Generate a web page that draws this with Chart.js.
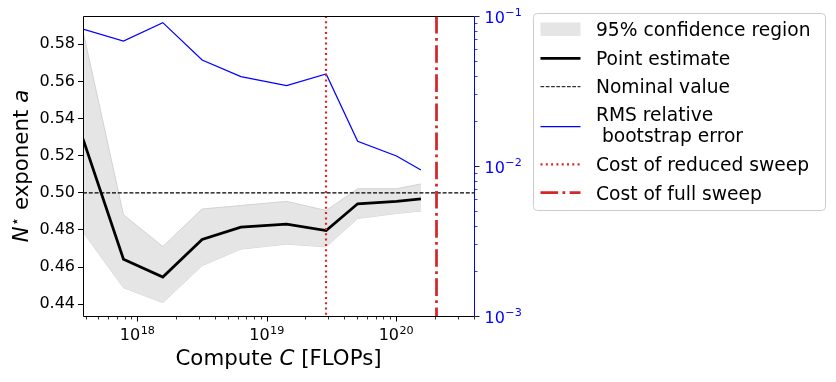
<!DOCTYPE html>
<html>
<head>
<meta charset="utf-8">
<script src="https://cdn.jsdelivr.net/npm/chart.js@4.4.0/dist/chart.umd.min.js"></script>
<style>
  body { margin: 0; background: #fff; }
  #wrap { position: relative; width: 836px; height: 382px; }
</style>
</head>
<body>
<div id="wrap"><canvas id="chart"></canvas></div>
<script>
// values
const computeFlops = [3.82e17, 7.85e17, 1.58e18, 3.18e18, 6.34e18, 1.43e19, 2.89e19, 5.06e19, 1.01e20, 1.56e20];
const pointEstimate = [0.529, 0.4643, 0.4547, 0.4749, 0.4815, 0.4832, 0.4797, 0.4941, 0.4954, 0.4968];
const ciUpper = [0.587, 0.4882, 0.4711, 0.4913, 0.4932, 0.4954, 0.4905, 0.5022, 0.5022, 0.5048];
const ciLower = [0.4789, 0.4489, 0.4409, 0.4608, 0.4697, 0.4724, 0.4709, 0.4862, 0.4889, 0.4902];
const rmsError = [0.0819, 0.0681, 0.0903, 0.0509, 0.0394, 0.0343, 0.0411, 0.0146, 0.01166, 0.0094];
const nominalValue = 0.5;
const reducedSweepCost = 2.86e19;
const fullSweepCost = 2.03e20;

const xLimits = [3.82e17, 4.01e20];
const yLimits = [0.4337, 0.5952];
const errLimits = [1e-3, 1e-1];
const yTicks = [0.44, 0.46, 0.48, 0.50, 0.52, 0.54, 0.56, 0.58];
const xMajorExps = [18, 19, 20];
const errMajorExps = [-3, -2, -1];

const FONT = '"DejaVu Sans", sans-serif';
const RED = '#d62728';
const BAND = '#e5e5e5';
const BAND_EDGE = '#d2d2d2';

function xy(ys) {
    return computeFlops.map((c, i) => ({ x: c, y: ys[i] }));
}

// draws "10" with a raised exponent, like matplotlib mathtext
function powLabel(ctx, exp, x, y, align, color) {
    const expText = exp < 0 ? '\u2212' + (-exp) : String(exp);
    ctx.font = `16px ${FONT}`;
    const wb = ctx.measureText('10').width;
    ctx.font = `11.2px ${FONT}`;
    const we = ctx.measureText(expText).width;
    const left = align === 'center' ? x - (wb + we) / 2 : x;
    ctx.fillStyle = color;
    ctx.textAlign = 'left';
    ctx.textBaseline = 'alphabetic';
    ctx.font = `16px ${FONT}`;
    ctx.fillText('10', left, y);
    ctx.font = `11.2px ${FONT}`;
    ctx.fillText(expText, left + wb + 0.5, y - 6.5);
}

function line(ctx, x1, y1, x2, y2, color, width, dash) {
    ctx.save();
    ctx.strokeStyle = color;
    ctx.lineWidth = width;
    ctx.setLineDash(dash || []);
    ctx.beginPath();
    ctx.moveTo(x1, y1);
    ctx.lineTo(x2, y2);
    ctx.stroke();
    ctx.restore();
}

const dotted = [2, 3.3];
const dashDot = [17.6, 4.4, 2.75, 4.4];

const extras = {
    id: 'extras',
    afterDatasetsDraw(chart) {
        const ctx = chart.ctx;
        const a = chart.chartArea;
        const xs = chart.scales.x;
        const xr = Math.round(xs.getPixelForValue(reducedSweepCost));
        const xf = Math.round(xs.getPixelForValue(fullSweepCost)) + 0.5;
        ctx.save();
        ctx.beginPath();
        ctx.rect(a.left, a.top, a.right - a.left, a.bottom - a.top);
        ctx.clip();
        line(ctx, xr, a.top, xr, a.bottom, RED, 2.2, dotted);
        line(ctx, xf, a.top, xf, a.bottom, RED, 2.75, dashDot);
        ctx.restore();
    },
    afterDraw(chart) {
        const ctx = chart.ctx;
        const a = chart.chartArea;
        const xs = chart.scales.x;
        const es = chart.scales.err;
        const L = a.left + 0.5, R = a.right + 0.5, T = a.top + 0.5, B = a.bottom + 0.5;

        // spines
        line(ctx, L, T, R, T, '#000', 1);
        line(ctx, L, T, L, B, '#000', 1);
        line(ctx, L, B, R, B, '#000', 1);
        line(ctx, R, T, R, B, '#0000ff', 1);

        // x ticks (log)
        for (let n = 17; n <= 20; n++) {
            for (let k = 1; k <= 9; k++) {
                const v = k * Math.pow(10, n);
                if (v < xLimits[0] || v > xLimits[1]) continue;
                const px = Math.round(xs.getPixelForValue(v)) + 0.5;
                line(ctx, px, B, px, B + (k === 1 ? 5 : 3), '#000', k === 1 ? 1 : 0.8);
            }
        }
        xMajorExps.forEach(e => {
            powLabel(ctx, e, xs.getPixelForValue(Math.pow(10, e)), 340, 'center', '#000');
        });

        // right log axis ticks
        for (let n = -3; n <= -1; n++) {
            for (let k = 1; k <= 9; k++) {
                const v = k * Math.pow(10, n);
                if (v < errLimits[0] || v > errLimits[1]) continue;
                const py = Math.round(es.getPixelForValue(v)) + 0.5;
                line(ctx, R, py, R + (k === 1 ? 5 : 3), py, '#222', k === 1 ? 1 : 0.8);
            }
        }
        errMajorExps.forEach(e => {
            powLabel(ctx, e, R + 10, es.getPixelForValue(Math.pow(10, e)) + 6.5, 'left', '#0000ff');
        });

        // x title
        ctx.fillStyle = '#000';
        ctx.textBaseline = 'alphabetic';
        ctx.textAlign = 'left';
        const big = `21.33px ${FONT}`, bigIt = `italic 21.33px ${FONT}`;
        const xParts = [['Compute ', big], ['C', bigIt], [' [FLOPs]', big]];
        let w = 0;
        xParts.forEach(p => { ctx.font = p[1]; w += ctx.measureText(p[0]).width; });
        let cx = (a.left + a.right) / 2 - w / 2;
        xParts.forEach(p => { ctx.font = p[1]; ctx.fillText(p[0], cx, 365); cx += ctx.measureText(p[0]).width; });

        // y title
        const yParts = [['N', bigIt, 0], ['\u22c6', `15px ${FONT}`, -8], [' exponent ', big, 0], ['a', bigIt, 0]];
        w = 0;
        yParts.forEach(p => { ctx.font = p[1]; w += ctx.measureText(p[0]).width; });
        ctx.save();
        ctx.translate(27.5, (a.top + a.bottom) / 2);
        ctx.rotate(-Math.PI / 2);
        cx = -w / 2;
        yParts.forEach(p => { ctx.font = p[1]; ctx.fillText(p[0], cx, p[2]); cx += ctx.measureText(p[0]).width; });
        ctx.restore();

        // legend
        ctx.save();
        ctx.fillStyle = 'rgba(255,255,255,0.8)';
        ctx.strokeStyle = '#cccccc';
        ctx.lineWidth = 1;
        ctx.beginPath();
        ctx.roundRect(533.5, 13.5, 292, 197, 4);
        ctx.fill();
        ctx.stroke();
        ctx.restore();

        ctx.fillStyle = BAND;
        ctx.fillRect(540.5, 22.5, 40, 13.5);
        line(ctx, 540.5, 58.3, 580.5, 58.3, '#000', 2.75);
        line(ctx, 540.5, 86.7, 580.5, 86.7, '#000', 1, [3.7, 1.6]);
        line(ctx, 540.5, 126.7, 580.5, 126.7, '#0000ff', 1.25);
        line(ctx, 540.5, 164.3, 580.5, 164.3, RED, 2.2, dotted);
        line(ctx, 540.5, 192.7, 580.5, 192.7, RED, 2.75, dashDot);

        const legendTexts = [
            ['95% confidence region', 36],
            ['Point estimate', 64.5],
            ['Nominal value', 93],
            ['RMS relative', 121],
            [' bootstrap error', 142],
            ['Cost of reduced sweep', 171],
            ['Cost of full sweep', 199.5]
        ];
        ctx.fillStyle = '#000';
        ctx.font = `18.67px ${FONT}`;
        legendTexts.forEach(t => ctx.fillText(t[0], 596, t[1]));
    }
};

new Chart(document.getElementById('chart'), {
    type: 'line',
    data: {
        datasets: [
            {
                label: '95% confidence region',
                data: xy(ciUpper),
                borderColor: BAND_EDGE,
                borderWidth: 1,
                backgroundColor: BAND,
                fill: '+1',
                pointRadius: 0,
                tension: 0,
                yAxisID: 'y',
                order: 5
            },
            {
                label: 'lower',
                data: xy(ciLower),
                borderColor: BAND_EDGE,
                borderWidth: 1,
                fill: false,
                pointRadius: 0,
                tension: 0,
                yAxisID: 'y',
                order: 5
            },
            {
                label: 'Point estimate',
                data: xy(pointEstimate),
                borderColor: '#000',
                borderWidth: 2.75,
                fill: false,
                pointRadius: 0,
                tension: 0,
                yAxisID: 'y',
                order: 3
            },
            {
                label: 'Nominal value',
                data: [{ x: xLimits[0], y: nominalValue }, { x: xLimits[1], y: nominalValue }],
                borderColor: '#000',
                borderWidth: 1.1,
                borderDash: [4, 1.8],
                fill: false,
                pointRadius: 0,
                yAxisID: 'y',
                order: 2
            },
            {
                label: 'RMS relative bootstrap error',
                data: xy(rmsError),
                borderColor: '#0000ff',
                borderWidth: 1.25,
                fill: false,
                pointRadius: 0,
                tension: 0,
                yAxisID: 'err',
                order: 1
            }
        ]
    },
    options: {
        responsive: true,
        maintainAspectRatio: false,
        animation: false,
        events: [],
        layout: { padding: { top: 16, left: 0, right: 0, bottom: 0 } },
        plugins: { legend: { display: false }, tooltip: { enabled: false } },
        scales: {
            x: {
                type: 'logarithmic',
                min: xLimits[0],
                max: xLimits[1],
                grid: { display: false },
                border: { display: false },
                ticks: { display: false },
                afterFit(s) { s.height = 66; }
            },
            y: {
                type: 'linear',
                position: 'left',
                min: yLimits[0],
                max: yLimits[1],
                afterBuildTicks(s) { s.ticks = yTicks.map(v => ({ value: v })); },
                ticks: {
                    color: '#000',
                    font: { family: FONT, size: 16 },
                    padding: 3,
                    callback: v => v.toFixed(2)
                },
                grid: { drawOnChartArea: false, drawTicks: true, tickLength: 5, color: '#000' },
                border: { display: false },
                afterFit(s) { s.width = 83; }
            },
            err: {
                type: 'logarithmic',
                position: 'right',
                min: errLimits[0],
                max: errLimits[1],
                grid: { display: false },
                border: { display: false },
                ticks: { display: false },
                afterFit(s) { s.width = 836 - 474; }
            }
        }
    },
    plugins: [extras]
});
</script>
</body>
</html>
